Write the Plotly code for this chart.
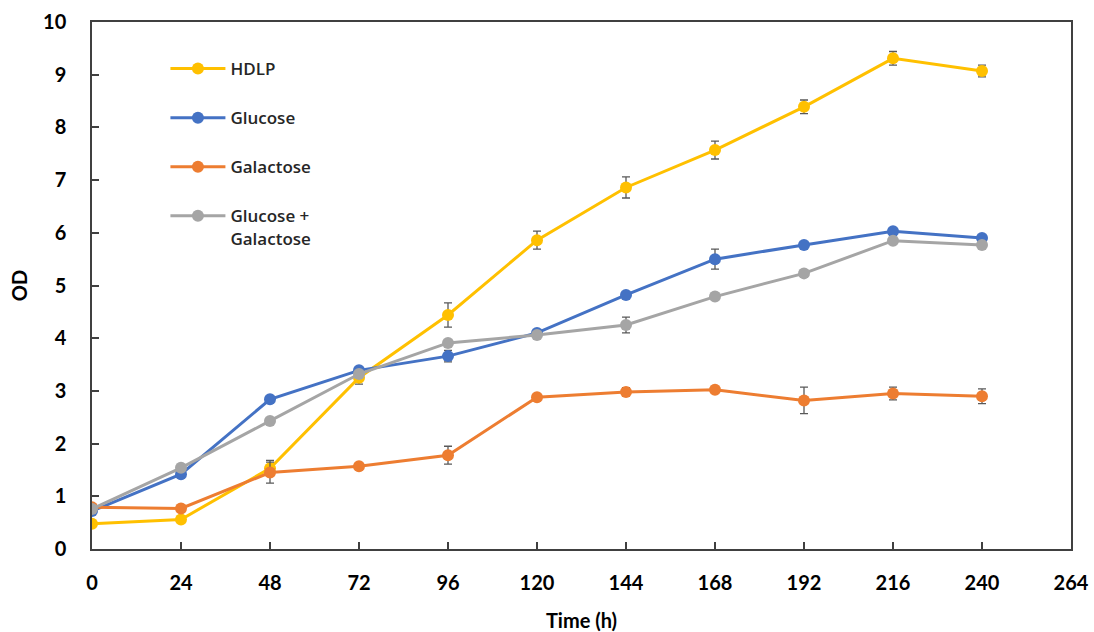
import plotly.graph_objects as go

time_h = [0, 24, 48, 72, 96, 120, 144, 168, 192, 216, 240]

hdlp = [0.48, 0.56, 1.53, 3.25, 4.44, 5.86, 6.86, 7.57, 8.39, 9.31, 9.07]
hdlp_err = [0.03, 0.03, 0.15, 0.12, 0.23, 0.17, 0.2, 0.17, 0.13, 0.13, 0.11]

glucose = [0.72, 1.42, 2.84, 3.39, 3.66, 4.10, 4.82, 5.50, 5.77, 6.03, 5.90]
glucose_err = [0.03, 0.05, 0.07, 0.05, 0.11, 0.05, 0.06, 0.19, 0.05, 0.05, 0.05]

galactose = [0.79, 0.77, 1.45, 1.57, 1.78, 2.88, 2.98, 3.02, 2.82, 2.95, 2.90]
galactose_err = [0.03, 0.03, 0.2, 0.05, 0.17, 0.06, 0.08, 0.05, 0.25, 0.12, 0.14]

glu_gal = [0.76, 1.54, 2.43, 3.32, 3.91, 4.06, 4.25, 4.79, 5.23, 5.85, 5.77]
glu_gal_err = [0.03, 0.04, 0.04, 0.04, 0.04, 0.04, 0.15, 0.04, 0.07, 0.04, 0.04]

names = ["HDLP", "Glucose", "Galactose", "Glucose +<br>Galactose"]
colors = ["#FFC000", "#4472C4", "#ED7D31", "#A5A5A5"]
series = [hdlp, glucose, galactose, glu_gal]
errors = [hdlp_err, glucose_err, galactose_err, glu_gal_err]

x_ticks = [0, 24, 48, 72, 96, 120, 144, 168, 192, 216, 240, 264]
y_ticks = list(range(0, 11))

fig = go.Figure()
for i, (nm, col, ys, er) in enumerate(zip(names, colors, series, errors)):
    fig.add_trace(go.Scatter(
        x=time_h, y=ys, name=nm, mode="lines+markers",
        line=dict(color=col, width=3),
        marker=dict(color=col, size=12),
        error_y=dict(type="data", array=er, visible=True, color="#595959",
                     thickness=1.3, width=4),
        legendgroup=str(i),
    ))

axis_font = dict(family="Lato, Open Sans, sans-serif", size=20, color="#000000", weight="bold")

fig.update_layout(
    width=1094, height=632,
    margin=dict(l=92, r=23, t=22, b=83, autoexpand=False),
    paper_bgcolor="white", plot_bgcolor="white",
    showlegend=True,
    legend=dict(
        x=0.075, y=0.945, xanchor="left", yanchor="top",
        font=dict(family="Open Sans, sans-serif", size=17, color="#262626", weight=600),
        tracegroupgap=24, valign="top", bgcolor="rgba(0,0,0,0)",
        itemwidth=55,
    ),
    xaxis=dict(
        range=[0, 264], tickvals=x_ticks, ticktext=[str(v) for v in x_ticks],
        ticks="inside", ticklen=7, tickcolor="#404040", tickwidth=1.5,
        showline=True, linecolor="#404040", linewidth=1.5, mirror=True,
        showgrid=False, zeroline=False, automargin=False,
        tickfont=axis_font, ticklabelstandoff=15,
        title=dict(text="Time (h)", font=axis_font, standoff=22),
    ),
    yaxis=dict(
        range=[0, 10], tickvals=y_ticks,
        ticks="inside", ticklen=7, tickcolor="#404040", tickwidth=1.5,
        showline=True, linecolor="#404040", linewidth=1.5, mirror=True,
        showgrid=False, zeroline=False, automargin=False,
        tickfont=axis_font, ticklabelstandoff=20,
        title=dict(text="OD", font=axis_font, standoff=10),
    ),
)

fig.write_html("out.html")
